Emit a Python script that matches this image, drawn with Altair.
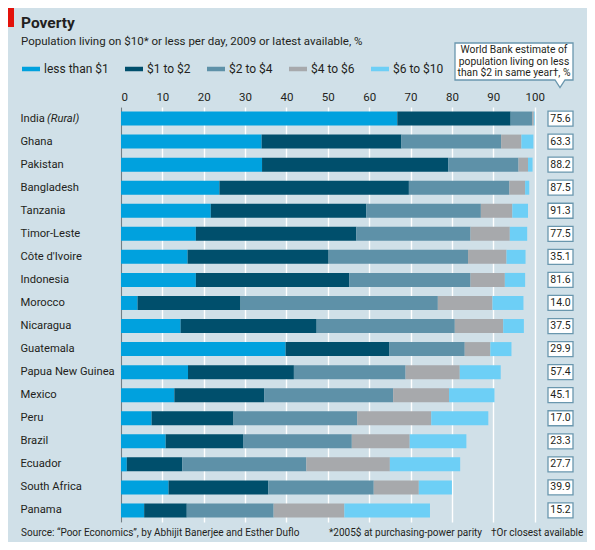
import altair as alt
import pandas as pd

countries = ["India (Rural)", "Ghana", "Pakistan", "Bangladesh", "Tanzania", "Timor-Leste",
             "Côte d'Ivoire", "Indonesia", "Morocco", "Nicaragua", "Guatemala",
             "Papua New Guinea", "Mexico", "Peru", "Brazil", "Ecuador", "South Africa", "Panama"]
brackets = ["less than $1", "$1 to $2", "$2 to $4", "$4 to $6", "$6 to $10"]
colors = ["#00a1de", "#004f6c", "#5e91a8", "#a7a9ac", "#6dcff6"]

under1 = [66.8, 34.0, 34.1, 23.8, 21.7, 18.1, 16.1, 18.1, 4.0, 14.4, 39.8, 16.2, 12.9, 7.4, 10.8, 1.4, 11.5, 5.6]
d1to2 = [27.4, 33.8, 45.0, 45.8, 37.6, 38.8, 34.1, 37.1, 24.9, 32.9, 25.1, 25.6, 21.7, 19.8, 18.7, 13.4, 24.1, 10.3]
d2to4 = [5.2, 24.1, 17.0, 24.3, 27.7, 27.6, 33.7, 29.3, 47.7, 33.4, 18.2, 27.0, 31.2, 29.9, 26.3, 30.0, 25.5, 21.0]
d4to6 = [0.4, 4.9, 2.3, 3.8, 7.6, 9.5, 9.3, 8.3, 13.2, 11.7, 6.2, 13.1, 13.5, 17.9, 14.0, 20.2, 10.9, 17.1]
d6to10 = [0.2, 2.9, 1.1, 1.0, 3.8, 4.2, 4.6, 4.9, 7.5, 5.0, 5.1, 9.9, 11.0, 13.8, 13.7, 17.0, 8.0, 20.7]
world_bank = [75.6, 63.3, 88.2, 87.5, 91.3, 77.5, 35.1, 81.6, 14.0, 37.5, 29.9, 57.4, 45.1, 17.0, 23.3, 27.7, 39.9, 15.2]
x_ticks = [0, 10, 20, 30, 40, 50, 60, 70, 80, 90, 100]

FONT = "Roboto"
TXT = "#231f20"

rows = []
for series, name in zip([under1, d1to2, d2to4, d4to6, d6to10], brackets):
    for c, v in zip(countries, series):
        rows.append({"country": c, "bracket": name, "value": v, "order": brackets.index(name)})
bars_df = pd.DataFrame(rows)
wb_df = pd.DataFrame({"country": countries, "wb": [f"{v:.1f}" for v in world_bank]})
one = pd.DataFrame({"a": [0]})

y_enc = alt.Y("country:N", sort=countries, title=None,
              scale=alt.Scale(paddingInner=0.39, paddingOuter=0.195),
              axis=alt.Axis(orient="left", labelAlign="left", labelPadding=101, ticks=False, tickSize=0,
                            domain=True, domainColor="#6f7f88", domainWidth=1.2,
                            labelFontSize=11.2, labelColor=TXT, labelFont=FONT,
                            labelExpr="datum.value == 'India (Rural)' ? 'India' : datum.value"))

bars = alt.Chart(bars_df).mark_bar(size=14).encode(
    x=alt.X("value:Q", stack="zero", title=None,
            scale=alt.Scale(domain=[0, 110], nice=False, zero=True),
            axis=alt.Axis(orient="top", values=x_ticks, grid=True, gridColor="white", gridWidth=1.4,
                          domain=False, ticks=False, tickSize=0, labelPadding=5,
                          labelFontSize=11.5, labelColor=TXT, labelFont=FONT)),
    y=y_enc,
    color=alt.Color("bracket:N", sort=brackets,
                    scale=alt.Scale(domain=brackets, range=colors),
                    legend=alt.Legend(title=None, orient="none", direction="horizontal",
                                      legendX=-99, legendY=-47, padding=0,
                                      symbolType="M-1,-0.25H1V0.25H-1Z", symbolSize=324,
                                      symbolStrokeWidth=0, labelFontSize=12, labelColor=TXT,
                                      labelFont=FONT, labelOffset=4, columnPadding=16)),
    order=alt.Order("order:Q"),
)

boxes = alt.Chart(wb_df).mark_bar(size=15, fill="white", stroke="#6a97ae", strokeWidth=1.3).encode(
    x=alt.value(427), x2=alt.value(452), y=alt.Y("country:N", sort=countries))
box_text = alt.Chart(wb_df).mark_text(fontSize=10.5, font=FONT, color=TXT, align="center").encode(
    x=alt.value(439.5), y=alt.Y("country:N", sort=countries), text="wb:N")

rural = alt.Chart(one).mark_text(fontSize=11.2, font=FONT, color=TXT, fontStyle="italic", align="left").encode(
    x=alt.value(-74), y=alt.value(11.5), text=alt.value("(Rural)"))

title = alt.Chart(one).mark_text(fontSize=15.5, font=FONT, fontWeight="bold", color=TXT,
                                 align="left", baseline="alphabetic").encode(
    x=alt.value(-100), y=alt.value(-79), text=alt.value("Poverty"))
subtitle = alt.Chart(one).mark_text(fontSize=11.5, font=FONT, color=TXT,
                                    align="left", baseline="alphabetic").encode(
    x=alt.value(-100), y=alt.value(-62),
    text=alt.value("Population living on $10* or less per day, 2009 or latest available, %"))
red = alt.Chart(one).mark_rect(color="#e3120b").encode(
    x=alt.value(-113), x2=alt.value(-107), y=alt.value(-99), y2=alt.value(-80))

callout = alt.Chart(one).mark_point(
    shape="M-59,-18.5H59V18.5H51L46,26L41,18.5H-59Z", size=4, filled=True,
    fill="white", stroke="#6a97ae", strokeWidth=1.3, opacity=1).encode(
    x=alt.value(393), y=alt.value(-45.5))
callout_text = alt.Chart(one).mark_text(fontSize=10.3, font=FONT, color=TXT, align="center",
                                        baseline="middle", lineHeight=11.5).encode(
    x=alt.value(393), y=alt.value(-57),
    text=alt.value(["World Bank estimate of", "population living on less", "than $2 in same year\u2020, %"]))

foot1 = alt.Chart(one).mark_text(fontSize=10, font=FONT, color=TXT, align="left").encode(
    x=alt.value(-100), y=alt.value(426),
    text=alt.value("Source: \u201cPoor Economics\u201d, by Abhijit Banerjee and Esther Duflo"))
foot2 = alt.Chart(one).mark_text(fontSize=10, font=FONT, color=TXT, align="left").encode(
    x=alt.value(208), y=alt.value(426), text=alt.value("*2005$ at purchasing-power parity"))
foot3 = alt.Chart(one).mark_text(fontSize=10, font=FONT, color=TXT, align="left").encode(
    x=alt.value(370), y=alt.value(426), text=alt.value("\u2020Or closest available"))

chart = alt.layer(bars, boxes, box_text, rural, title, subtitle, red, callout, callout_text,
                  foot1, foot2, foot3).properties(
    width=455, height=415,
    padding={"left": 113, "top": 99, "right": 11, "bottom": 20},
    autosize=alt.AutoSizeParams(type="none"),
    background="#d0e0e8",
).configure_view(stroke=None)

chart.save("out.html", embed_options={"renderer": "svg", "actions": False})
